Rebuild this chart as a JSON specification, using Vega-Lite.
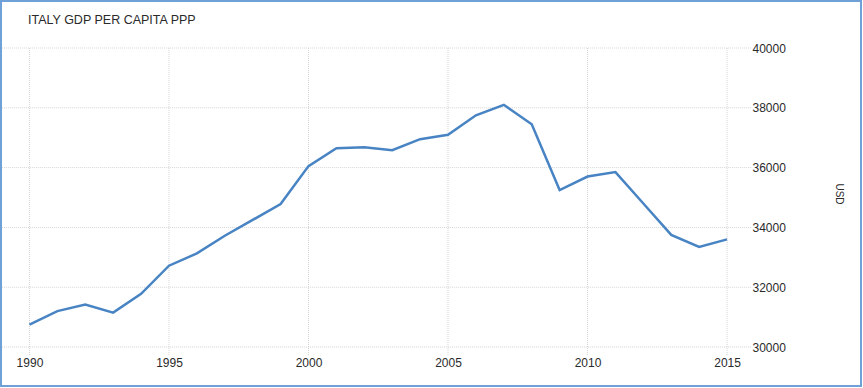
{
  "$schema": "https://vega.github.io/schema/vega-lite/v6.json",
  "width": 860,
  "height": 385,
  "autosize": {"type": "none"},
  "padding": {"left": 1, "top": 1, "right": 2, "bottom": 2},
  "background": "white",
  "config": {
    "view": {"stroke": "#6fa0d8", "strokeWidth": 2},
    "font": "Liberation Sans"
  },
  "title": {
    "text": "ITALY GDP PER CAPITA PPP",
    "anchor": "start",
    "frame": "group",
    "orient": "top",
    "offset": -25,
    "dx": 27,
    "fontSize": 12.5,
    "fontWeight": "normal",
    "color": "#2a2a2a",
    "font": "Liberation Sans"
  },
  "datasets": {
    "gdp": [
      {"year": 1990, "value": 30750},
      {"year": 1991, "value": 31200},
      {"year": 1992, "value": 31420},
      {"year": 1993, "value": 31150},
      {"year": 1994, "value": 31780},
      {"year": 1995, "value": 32720},
      {"year": 1996, "value": 33130},
      {"year": 1997, "value": 33720},
      {"year": 1998, "value": 34250},
      {"year": 1999, "value": 34780},
      {"year": 2000, "value": 36050},
      {"year": 2001, "value": 36650},
      {"year": 2002, "value": 36680},
      {"year": 2003, "value": 36580},
      {"year": 2004, "value": 36950},
      {"year": 2005, "value": 37100},
      {"year": 2006, "value": 37750},
      {"year": 2007, "value": 38100},
      {"year": 2008, "value": 37450},
      {"year": 2009, "value": 35250},
      {"year": 2010, "value": 35700},
      {"year": 2011, "value": 35850},
      {"year": 2012, "value": 34800},
      {"year": 2013, "value": 33750},
      {"year": 2014, "value": 33350},
      {"year": 2015, "value": 33600}
    ],
    "yticks": [
      {"v": 30000}, {"v": 32000}, {"v": 34000}, {"v": 36000}, {"v": 38000}, {"v": 40000}
    ],
    "xticks": [
      {"year": 1990}, {"year": 1995}, {"year": 2000}, {"year": 2005}, {"year": 2010}, {"year": 2015}
    ]
  },
  "encoding": {
    "x": {
      "type": "quantitative",
      "scale": {"domain": [1988.98, 2019.8], "nice": false, "zero": false},
      "axis": {
        "title": null,
        "values": [1990, 1995, 2000, 2005, 2010, 2015],
        "format": "d",
        "grid": false,
        "domain": false,
        "ticks": false,
        "offset": -29,
        "labelPadding": 0,
        "labelFontSize": 12,
        "labelColor": "#2a2a2a",
        "labelBaseline": "top"
      }
    },
    "y": {
      "type": "quantitative",
      "scale": {"domain": [28696, 41572], "nice": false, "zero": false},
      "axis": {
        "orient": "right",
        "title": "USD",
        "titleFontSize": 10,
        "titleFontWeight": "normal",
        "titleColor": "#2a2a2a",
        "titleAngle": 90,
        "titlePadding": 48,
        "values": [30000, 32000, 34000, 36000, 38000, 40000],
        "format": "d",
        "grid": false,
        "domain": false,
        "ticks": false,
        "offset": -111,
        "labelPadding": 2,
        "labelFontSize": 12,
        "labelColor": "#2a2a2a"
      }
    }
  },
  "layer": [
    {
      "data": {"name": "yticks"},
      "mark": {"type": "rule", "color": "#d4d4d4", "strokeWidth": 1, "strokeDash": [1, 1]},
      "encoding": {
        "y": {"field": "v", "type": "quantitative"},
        "x": {"datum": 1989.02, "type": "quantitative"},
        "x2": {"datum": 2015.88}
      }
    },
    {
      "data": {"name": "xticks"},
      "mark": {"type": "rule", "color": "#d4d4d4", "strokeWidth": 1, "strokeDash": [1, 1]},
      "encoding": {
        "x": {"field": "year", "type": "quantitative"},
        "y": {"datum": 40000, "type": "quantitative"},
        "y2": {"datum": 29730}
      }
    },
    {
      "data": {"name": "gdp"},
      "mark": {"type": "line", "color": "#4884c3", "strokeWidth": 2.5},
      "encoding": {
        "x": {"field": "year", "type": "quantitative"},
        "y": {"field": "value", "type": "quantitative"}
      }
    }
  ]
}
